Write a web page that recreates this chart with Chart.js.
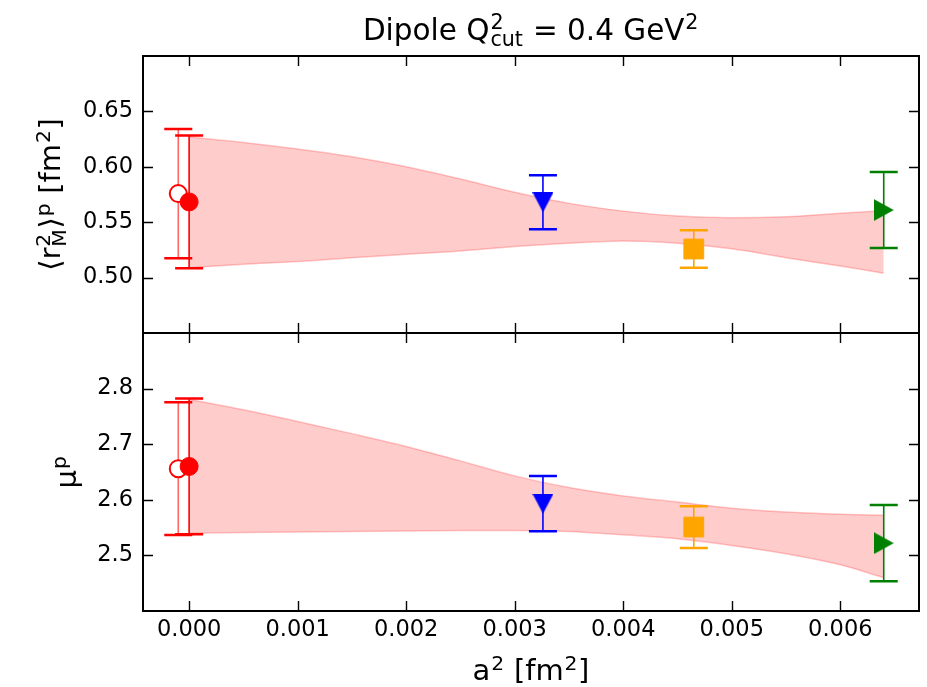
<!DOCTYPE html>
<html>
<head>
<meta charset="utf-8">
<script src="https://cdn.jsdelivr.net/npm/chart.js"></script>
<style>
  html, body { margin: 0; padding: 0; background: #fff; }
  #wrap { position: relative; width: 927px; height: 687px; }
  #wrap canvas { position: absolute; left: 0; }
  #topChart { top: 0; }
  #botChart { top: 333px; }
</style>
</head>
<body>
<div id="wrap">
  <canvas id="topChart" width="927" height="334"></canvas>
  <canvas id="botChart" width="927" height="354"></canvas>
</div>
<script>
// lattice points: two continuum values at a^2 ~ 0 and three ensembles
const a2 = [-0.0001, 0.0, 0.00326, 0.00465, 0.0064];
const r2Val = [0.5758, 0.5683, 0.5680, 0.5258, 0.5610];
const r2Err = [0.0584, 0.0599, 0.0244, 0.0169, 0.0342];
const muVal = [2.656, 2.660, 2.593, 2.551, 2.522];
const muErr = [0.1194, 0.1220, 0.0497, 0.0375, 0.0687];
const pointColors = ['#ff0000', '#ff0000', '#0000ff', '#ffa500', '#008000'];

// fit band vs a^2
const bandX = [0, 0.0005, 0.001, 0.0015, 0.002, 0.0025, 0.003, 0.0035, 0.004, 0.0045, 0.005, 0.0055, 0.006, 0.0064];
const r2Upper = [0.627, 0.622, 0.616, 0.609, 0.600, 0.589, 0.577, 0.567, 0.560, 0.5555, 0.554, 0.555, 0.558, 0.5605];
const r2Lower = [0.509, 0.512, 0.5145, 0.518, 0.521, 0.524, 0.528, 0.531, 0.533, 0.531, 0.526, 0.518, 0.5105, 0.504];
const muUpper = [2.781, 2.762, 2.741, 2.719, 2.696, 2.670, 2.643, 2.622, 2.607, 2.596, 2.585, 2.578, 2.574, 2.572];
const muLower = [2.540, 2.541, 2.542, 2.543, 2.544, 2.545, 2.545, 2.543, 2.537, 2.530, 2.518, 2.503, 2.483, 2.460];

// axes
const xTicks = [0, 0.001, 0.002, 0.003, 0.004, 0.005, 0.006];
const r2Ticks = [0.50, 0.55, 0.60, 0.65];
const muTicks = [2.5, 2.6, 2.7, 2.8];
const X_MIN = -0.000425, X_MAX = 0.006725;

const FONT = "'DejaVu Sans', sans-serif";
const TICK = 10;

// matplotlib style triangles, centred on their bounding box
function triangleMarker(color, dir) {
  const c = document.createElement('canvas');
  const w = dir === 'down' ? 21 : 20;
  const h = dir === 'down' ? 20 : 22;
  c.width = w; c.height = h;
  const g = c.getContext('2d');
  g.fillStyle = color;
  g.beginPath();
  if (dir === 'down') {
    g.moveTo(0, 0); g.lineTo(w, 0); g.lineTo(w / 2, h);
  } else {
    g.moveTo(0, 0); g.lineTo(w, h / 2); g.lineTo(0, h);
  }
  g.closePath();
  g.fill();
  return c;
}

const markers = ['circle', 'circle', triangleMarker(pointColors[2], 'down'), 'rect', triangleMarker(pointColors[4], 'right')];
const radii = [8.5, 9, 11, 14, 11];

//---------------- text with super/subscripts ----------------
function runWidth(ctx, r, F) {
  if (r.t !== undefined) { ctx.font = F + 'px ' + FONT; return ctx.measureText(r.t).width; }
  ctx.font = (F * 0.7) + 'px ' + FONT;
  const ws = r.sup ? ctx.measureText(r.sup).width : 0;
  const wb = r.sub ? ctx.measureText(r.sub).width : 0;
  return Math.max(ws, wb) + F * 0.05;
}

function drawMath(ctx, runs, cx, baseY, F) {
  let total = 0;
  runs.forEach(r => { total += runWidth(ctx, r, F); });
  let x = cx - total / 2;
  ctx.textAlign = 'left';
  ctx.textBaseline = 'alphabetic';
  ctx.fillStyle = '#000';
  runs.forEach(r => {
    const w = runWidth(ctx, r, F);
    if (r.t !== undefined) {
      ctx.font = F + 'px ' + FONT;
      ctx.fillText(r.t, x, baseY);
    } else {
      ctx.font = (F * 0.7) + 'px ' + FONT;
      if (r.sup) ctx.fillText(r.sup, x + F * 0.03, baseY - F * 0.36);
      if (r.sub) ctx.fillText(r.sub, x + F * 0.03, baseY + F * 0.22);
    }
    x += w;
  });
}

function drawRotated(ctx, runs, bx, cy, F) {
  ctx.save();
  ctx.translate(bx, cy);
  ctx.rotate(-Math.PI / 2);
  drawMath(ctx, runs, 0, 0, F);
  ctx.restore();
}

//---------------- error bars, drawn under each marker ----------------
const errorBars = {
  id: 'errorBars',
  beforeDatasetDraw(chart, args) {
    const ds = chart.data.datasets[args.index];
    if (ds.err === undefined) return;
    const { ctx, scales: { x, y } } = chart;
    const p = ds.data[0];
    const px = x.getPixelForValue(p.x);
    const yHi = y.getPixelForValue(p.y + ds.err);
    const yLo = y.getPixelForValue(p.y - ds.err);
    ctx.save();
    ctx.strokeStyle = ds.barColor;
    ctx.lineWidth = 1.6;
    ctx.beginPath();
    ctx.moveTo(px, yHi); ctx.lineTo(px, yLo);
    ctx.stroke();
    ctx.strokeStyle = ds.capColor;
    ctx.lineWidth = 2.5;
    ctx.beginPath();
    ctx.moveTo(px - 14, yHi); ctx.lineTo(px + 14, yHi);
    ctx.moveTo(px - 14, yLo); ctx.lineTo(px + 14, yLo);
    ctx.stroke();
    ctx.restore();
  }
};

//---------------- box frame with inward ticks ----------------
const frame = {
  id: 'frame',
  afterDraw(chart) {
    const { ctx, chartArea: a, scales: { x, y } } = chart;
    ctx.save();
    ctx.strokeStyle = '#000';
    ctx.lineWidth = 2;
    ctx.strokeRect(a.left, a.top, a.right - a.left, a.bottom - a.top);
    ctx.lineWidth = 1.4;
    ctx.beginPath();
    xTicks.forEach(v => {
      const px = Math.round(x.getPixelForValue(v)) + 0.5;
      ctx.moveTo(px, a.bottom); ctx.lineTo(px, a.bottom - TICK);
      ctx.moveTo(px, a.top); ctx.lineTo(px, a.top + TICK);
    });
    y.ticks.forEach(t => {
      const py = Math.round(y.getPixelForValue(t.value)) + 0.5;
      ctx.moveTo(a.left, py); ctx.lineTo(a.left + TICK, py);
      ctx.moveTo(a.right, py); ctx.lineTo(a.right - TICK, py);
    });
    ctx.stroke();
    ctx.restore();
  }
};

function buildDatasets(vals, errs, upper, lower) {
  const sets = [];
  a2.forEach((xv, i) => {
    const open = i === 0;
    sets.push({
      type: 'scatter',
      data: [{ x: xv, y: vals[i] }],
      err: errs[i],
      barColor: open ? 'rgba(255,0,0,0.6)' : pointColors[i],
      capColor: pointColors[i],
      pointStyle: markers[i],
      pointRadius: radii[i],
      pointBackgroundColor: open ? '#fff' : pointColors[i],
      pointBorderColor: pointColors[i],
      pointBorderWidth: open ? 2 : 1,
      order: open ? 3 : 1
    });
  });
  sets.push({
    type: 'line',
    data: bandX.map((xv, i) => ({ x: xv, y: upper[i] })),
    fill: '+1',
    backgroundColor: 'rgba(255,0,0,0.2)',
    borderColor: 'rgba(255,0,0,0.22)',
    borderWidth: 1.5,
    pointRadius: 0,
    cubicInterpolationMode: 'monotone',
    order: 10
  });
  sets.push({
    type: 'line',
    data: bandX.map((xv, i) => ({ x: xv, y: lower[i] })),
    fill: false,
    borderColor: 'rgba(255,0,0,0.22)',
    borderWidth: 1.5,
    pointRadius: 0,
    cubicInterpolationMode: 'monotone',
    order: 10
  });
  return sets;
}

function yScale(min, max, ticks, digits) {
  return {
    type: 'linear', min: min, max: max,
    afterBuildTicks: s => { s.ticks = ticks.map(v => ({ value: v })); },
    // fixed gutter, and no extra room reserved for the end labels
    afterFit: s => { s.width = 143; s.paddingTop = 0; s.paddingBottom = 0; },
    ticks: { font: { family: FONT, size: 22.5 }, color: '#000', padding: 10, callback: v => v.toFixed(digits) },
    grid: { display: false, drawTicks: false },
    border: { display: false }
  };
}

function baseOptions() {
  return {
    responsive: false,
    devicePixelRatio: 1,
    animation: false,
    plugins: { legend: { display: false }, tooltip: { enabled: false } }
  };
}

// top panel: magnetic radius
const topOpts = baseOptions();
topOpts.layout = { autoPadding: false, padding: { left: 0, right: 8, top: 56, bottom: 1 } };
topOpts.scales = {
  x: { type: 'linear', min: X_MIN, max: X_MAX, display: false },
  y: yScale(0.45, 0.70, r2Ticks, 2)
};
new Chart(document.getElementById('topChart'), {
  type: 'scatter',
  data: { datasets: buildDatasets(r2Val, r2Err, r2Upper, r2Lower) },
  options: topOpts,
  plugins: [errorBars, frame, {
    id: 'topText',
    afterDraw(chart) {
      const ctx = chart.ctx;
      const mid = (chart.chartArea.left + chart.chartArea.right) / 2;
      drawMath(ctx, [{ t: 'Dipole Q' }, { sup: '2', sub: 'cut' }, { t: ' = 0.4 GeV' }, { sup: '2' }], mid, 40, 29.5);
      drawRotated(ctx, [{ t: '\u27E8r' }, { sup: '2', sub: 'M' }, { t: '\u27E9' }, { sup: 'p' }, { t: ' [fm' }, { sup: '2' }, { t: ']' }],
        60, (chart.chartArea.top + chart.chartArea.bottom) / 2, 29);
    }
  }]
});

// bottom panel: magnetic moment
const botOpts = baseOptions();
botOpts.layout = { autoPadding: false, padding: { left: 0, right: 8, top: 0, bottom: 0 } };
botOpts.scales = {
  x: {
    type: 'linear', min: X_MIN, max: X_MAX,
    afterBuildTicks: s => { s.ticks = xTicks.map(v => ({ value: v })); },
    afterFit: s => { s.height = 76; },
    ticks: { font: { family: FONT, size: 22.5 }, color: '#000', padding: 6, maxRotation: 0, autoSkip: false, callback: v => v.toFixed(3) },
    grid: { display: false, drawTicks: false },
    border: { display: false }
  },
  y: yScale(2.40, 2.90, muTicks, 1)
};
new Chart(document.getElementById('botChart'), {
  type: 'scatter',
  data: { datasets: buildDatasets(muVal, muErr, muUpper, muLower) },
  options: botOpts,
  plugins: [errorBars, frame, {
    id: 'botText',
    afterDraw(chart) {
      const ctx = chart.ctx;
      const mid = (chart.chartArea.left + chart.chartArea.right) / 2;
      drawMath(ctx, [{ t: 'a' }, { sup: '2' }, { t: ' [fm' }, { sup: '2' }, { t: ']' }], mid, 347, 29);
      drawRotated(ctx, [{ t: '\u03BC' }, { sup: 'p' }], 76, (chart.chartArea.top + chart.chartArea.bottom) / 2, 29);
    }
  }]
});
</script>
</body>
</html>
